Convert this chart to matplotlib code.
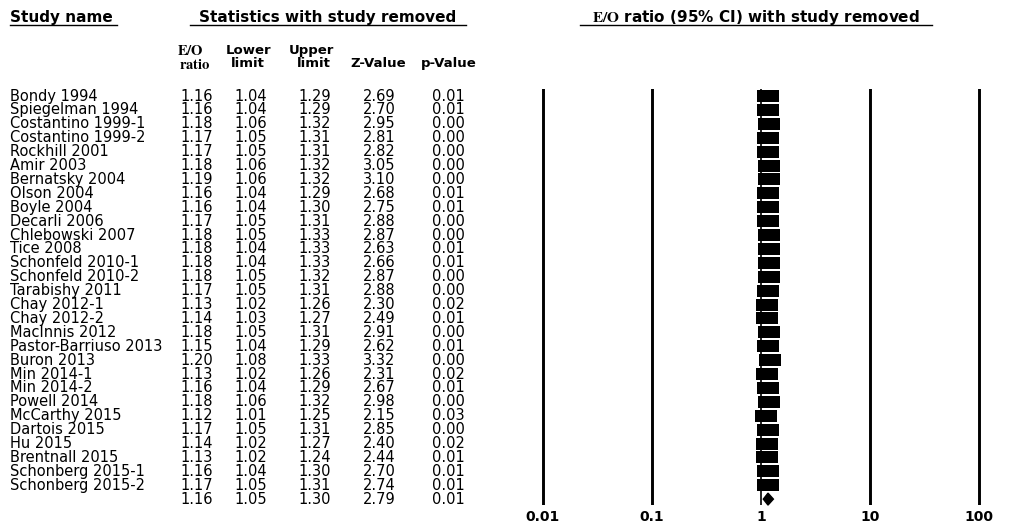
import matplotlib
matplotlib.use("Agg")
import matplotlib.pyplot as plt
from matplotlib import transforms
from matplotlib.lines import Line2D
import numpy as np

studies = ["Bondy 1994", "Spiegelman 1994", "Costantino 1999-1", "Costantino 1999-2",
           "Rockhill 2001", "Amir 2003", "Bernatsky 2004", "Olson 2004", "Boyle 2004",
           "Decarli 2006", "Chlebowski 2007", "Tice 2008", "Schonfeld 2010-1",
           "Schonfeld 2010-2", "Tarabishy 2011", "Chay 2012-1", "Chay 2012-2",
           "MacInnis 2012", "Pastor-Barriuso 2013", "Buron 2013", "Min 2014-1",
           "Min 2014-2", "Powell 2014", "McCarthy 2015", "Dartois 2015", "Hu 2015",
           "Brentnall 2015", "Schonberg 2015-1", "Schonberg 2015-2"]
ratio = [1.16, 1.16, 1.18, 1.17, 1.17, 1.18, 1.19, 1.16, 1.16, 1.17, 1.18, 1.18, 1.18,
         1.18, 1.17, 1.13, 1.14, 1.18, 1.15, 1.20, 1.13, 1.16, 1.18, 1.12, 1.17, 1.14,
         1.13, 1.16, 1.17]
lower = [1.04, 1.04, 1.06, 1.05, 1.05, 1.06, 1.06, 1.04, 1.04, 1.05, 1.05, 1.04, 1.04,
         1.05, 1.05, 1.02, 1.03, 1.05, 1.04, 1.08, 1.02, 1.04, 1.06, 1.01, 1.05, 1.02,
         1.02, 1.04, 1.05]
upper = [1.29, 1.29, 1.32, 1.31, 1.31, 1.32, 1.32, 1.29, 1.30, 1.31, 1.33, 1.33, 1.33,
         1.32, 1.31, 1.26, 1.27, 1.31, 1.29, 1.33, 1.26, 1.29, 1.32, 1.25, 1.31, 1.27,
         1.24, 1.30, 1.31]
zval = [2.69, 2.70, 2.95, 2.81, 2.82, 3.05, 3.10, 2.68, 2.75, 2.88, 2.87, 2.63, 2.66,
        2.87, 2.88, 2.30, 2.49, 2.91, 2.62, 3.32, 2.31, 2.67, 2.98, 2.15, 2.85, 2.40,
        2.44, 2.70, 2.74]
pval = [0.01, 0.01, 0.00, 0.00, 0.00, 0.00, 0.00, 0.01, 0.01, 0.00, 0.00, 0.01, 0.01,
        0.00, 0.00, 0.02, 0.01, 0.00, 0.01, 0.00, 0.02, 0.01, 0.00, 0.03, 0.00, 0.02,
        0.01, 0.01, 0.01]
summary = dict(ratio=1.16, lower=1.05, upper=1.30, z=2.79, p=0.01)

xticks = [0.01, 0.1, 1, 10, 100]
xticklabels = ["0.01", "0.1", "1", "10", "100"]

plt.rcParams['mathtext.fontset'] = 'stix'
plt.rcParams['font.family'] = ['DejaVu Sans']

W, H = 1036, 526
fig = plt.figure(figsize=(W / 100, H / 100), dpi=100)
fig.patch.set_facecolor("white")

# forest axes: pixel x 520..1000, pixel y 89..505
ax = fig.add_axes([520 / W, (H - 505) / H, 480 / W, 416 / H])
ax.set_xscale("log")
ax.set_xlim(10 ** -2.211, 10 ** 2.193)
row_h = 13.9
y0 = 96.0
def row_of(ypix):
    return (ypix - y0) / row_h
ax.set_ylim(row_of(505), row_of(89))
for s in ax.spines.values():
    s.set_visible(False)
ax.set_yticks([])
ax.set_xticks(xticks)
ax.set_xticklabels(xticklabels, fontsize=10, fontweight="bold")
ax.minorticks_off()
ax.tick_params(axis="x", length=0, pad=3.5)

for v in xticks:
    ax.axvline(v, color="black", lw=1.2 if v == 1 else 2.1, zorder=1)

n = len(studies)
rows = np.arange(n)
ratio_a = np.array(ratio)
lo_a = np.array(lower)
hi_a = np.array(upper)
ax.errorbar(ratio_a, rows, xerr=[ratio_a - lo_a, hi_a - ratio_a], fmt="none",
            ecolor="black", elinewidth=1, capsize=0, zorder=2)
box = [(-1, -0.52), (1, -0.52), (1, 0.52), (-1, 0.52), (-1, -0.52)]
ax.plot(ratio_a, rows, linestyle="none", marker=box, markersize=16,
        color="black", markeredgewidth=0, zorder=3)

# summary diamond
sr = n
dh = 0.43
ax.fill([summary["lower"], summary["ratio"], summary["upper"], summary["ratio"]],
        [sr, sr - dh, sr, sr + dh], color="black", zorder=3, clip_on=False)

# table text
tr = transforms.blended_transform_factory(fig.transFigure, ax.transData)
fs = 10.5
name_x = 10 / W
col_x = [196.5 / W, 251 / W, 314.5 / W, 379.5 / W, 448.5 / W]
for i in range(n):
    fig.text(name_x, i, studies[i], transform=tr, fontsize=fs, ha="left", va="center")
    vals = [ratio[i], lower[i], upper[i], zval[i], pval[i]]
    for cx, v in zip(col_x, vals):
        fig.text(cx, i, f"{v:.2f}", transform=tr, fontsize=fs, ha="center", va="center")
for cx, v in zip(col_x, [summary["ratio"], summary["lower"], summary["upper"],
                         summary["z"], summary["p"]]):
    fig.text(cx, n, f"{v:.2f}", transform=tr, fontsize=fs, ha="center", va="center")

# column headers
hr1 = row_of(50.5)
hr2 = row_of(63.5)
hfs = 9.5
fig.text(190 / W, hr1, r"$\mathbf{E/O}$", transform=tr, fontsize=10.5, ha="center", va="center")
fig.text(195 / W, hr2 + 0.05, r"$\mathbf{ratio}$", transform=tr, fontsize=10.5, ha="center", va="center")
fig.text(249 / W, hr1, "Lower", transform=tr, fontsize=hfs, fontweight="bold", ha="center", va="center")
fig.text(248 / W, hr2, "limit", transform=tr, fontsize=hfs, fontweight="bold", ha="center", va="center")
fig.text(311 / W, hr1, "Upper", transform=tr, fontsize=hfs, fontweight="bold", ha="center", va="center")
fig.text(314 / W, hr2, "limit", transform=tr, fontsize=hfs, fontweight="bold", ha="center", va="center")
fig.text(378 / W, hr2, "Z-Value", transform=tr, fontsize=hfs, fontweight="bold", ha="center", va="center")
fig.text(449 / W, hr2, "p-Value", transform=tr, fontsize=hfs, fontweight="bold", ha="center", va="center")

# titles with underlines
tr_row = row_of(17)
ul_row = row_of(24.5)
tfs = 11
fig.text(10 / W, tr_row, "Study name", transform=tr, fontsize=tfs, fontweight="bold",
         ha="left", va="center")
fig.text(328 / W, tr_row, "Statistics with study removed", transform=tr, fontsize=tfs,
         fontweight="bold", ha="center", va="center")
fig.text(756 / W, tr_row, r"$\mathbf{E/O}$ ratio (95% CI) with study removed", transform=tr,
         fontsize=tfs, fontweight="bold", ha="center", va="center")
for x1, x2 in [(10, 117), (190, 466), (580, 932)]:
    fig.add_artist(Line2D([x1 / W, x2 / W], [ul_row, ul_row], transform=tr,
                          color="black", lw=1.0))

fig.savefig("out.png", dpi=100, facecolor="white")
